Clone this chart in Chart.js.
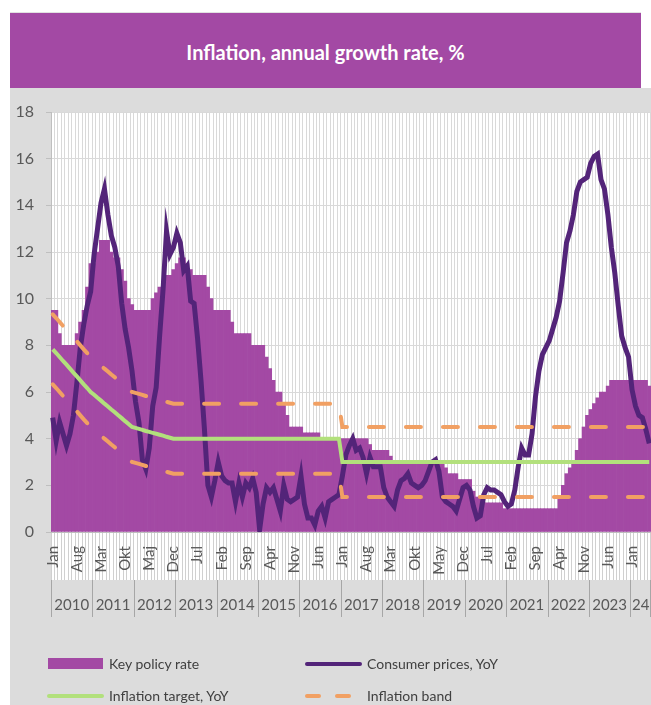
<!DOCTYPE html>
<html>
<head>
<meta charset="utf-8">
<title>Inflation, annual growth rate, %</title>
<script src="https://cdn.jsdelivr.net/npm/chart.js@4/dist/chart.umd.min.js"></script>
<style>
  body { margin: 0; width: 651px; height: 705px; position: relative; overflow: hidden; background: #fff; font-family: Lato, sans-serif; }
  #band { position: absolute; left: 10px; top: 13px; width: 631px; height: 75px; background: #A349A4; color: #fff;
          border-top: 1px solid #e2e2e2; margin-top: -1px;
          font-weight: bold; font-size: 20px; text-align: center; line-height: 78px; }
  #bg { position: absolute; left: 10px; top: 88px; right: 0; bottom: 0; background: #dcdcdc; }
  #chart { position: absolute; left: 0; top: 0; }
  .sw { position: absolute; }
  .txt { position: absolute; font-size: 14px; color: #404040; line-height: 20px; white-space: nowrap; }
</style>
</head>
<body>
<div id="band">Inflation, annual growth rate, %</div>
<div id="bg"></div>
<canvas id="chart" width="651" height="705"></canvas>
<div id="legend"></div>
<script>
// monthly, Jan 2010 - Jun 2024
var years = ['2010', '2011', '2012', '2013', '2014', '2015', '2016', '2017', '2018', '2019', '2020', '2021', '2022', '2023', '24'];
var months = ['Jan', 'Feb', 'Mar', 'Apr', 'May', 'Jun', 'Jul', 'Aug', 'Sep', 'Okt', 'Nov', 'Dec'];
// labels shown on the axis, one every 7 months
var tickLabels = ['Jan', 'Aug', 'Mar', 'Okt', 'Maj', 'Dec', 'Jul', 'Feb', 'Sep', 'Apr', 'Nov', 'Jun', 'Jan',
                  'Aug', 'Mar', 'Okt', 'May', 'Dec', 'Jul', 'Feb', 'Sep', 'Apr', 'Nov', 'Jun', 'Jan'];

var keyRate = [
  9.5, 9.5, 8.5, 8.0, 8.0, 8.0, 8.0, 8.5, 9.0, 9.5, 10.5, 11.5,
  11.5, 12.0, 12.5, 12.5, 12.5, 12.0, 11.75, 11.75, 11.25, 10.75, 10.0, 9.75,
  9.5, 9.5, 9.5, 9.5, 9.5, 10.0, 10.25, 10.5, 10.75, 11.0, 11.0, 11.25,
  11.5, 11.75, 11.75, 11.5, 11.25, 11.0, 11.0, 11.0, 11.0, 10.5, 10.0, 9.5,
  9.5, 9.5, 9.5, 9.5, 9.0, 8.5, 8.5, 8.5, 8.5, 8.5, 8.0, 8.0,
  8.0, 8.0, 7.5, 7.0, 6.5, 6.0, 6.0, 5.5, 5.0, 4.5, 4.5, 4.5,
  4.5, 4.25, 4.25, 4.25, 4.25, 4.25, 4.0, 4.0, 4.0, 4.0, 4.0, 4.0,
  4.0, 4.0, 4.0, 4.0, 4.0, 4.0, 4.0, 4.0, 3.75, 3.5, 3.5, 3.5,
  3.5, 3.5, 3.25, 3.0, 3.0, 3.0, 3.0, 3.0, 3.0, 3.0, 3.0, 3.0,
  3.0, 3.0, 3.0, 3.0, 3.0, 3.0, 2.75, 2.5, 2.5, 2.5, 2.25, 2.25,
  2.25, 2.25, 1.75, 1.5, 1.5, 1.25, 1.25, 1.25, 1.25, 1.25, 1.25, 1.0,
  1.0, 1.0, 1.0, 1.0, 1.0, 1.0, 1.0, 1.0, 1.0, 1.0, 1.0, 1.0,
  1.0, 1.0, 1.0, 1.5, 2.0, 2.5, 2.75, 3.0, 3.5, 4.0, 4.5, 5.0,
  5.25, 5.5, 5.75, 6.0, 6.0, 6.25, 6.5, 6.5, 6.5, 6.5, 6.5, 6.5,
  6.5, 6.5, 6.5, 6.5, 6.5, 6.25
];

var cpi = [
  4.9, 3.9, 4.7, 4.2, 3.7, 4.2, 5.0, 6.4, 7.9, 8.9, 9.7, 10.3,
  11.9, 13.0, 14.1, 14.7, 13.6, 12.7, 12.2, 11.4, 9.8, 8.7, 7.9, 6.9,
  5.6, 4.7, 3.1, 2.7, 3.6, 5.4, 6.2, 8.4, 10.4, 12.9, 11.9, 12.2,
  12.8, 12.4, 11.2, 11.4, 9.9, 9.8, 8.3, 6.5, 4.4, 2.0, 1.5, 2.2,
  3.0, 2.4, 2.2, 2.1, 2.1, 1.3, 2.1, 1.5, 2.1, 1.9, 2.3, 1.7,
  0.1, 1.2, 1.9, 1.7, 1.9, 1.4, 0.9, 2.0, 1.4, 1.3, 1.4, 1.5,
  2.4, 1.2, 0.6, 0.6, 0.3, 0.9, 1.1, 0.6, 1.3, 1.4, 1.5, 1.6,
  2.4, 3.3, 3.7, 4.0, 3.5, 3.6, 3.2, 2.5, 3.2, 2.8, 2.8, 2.8,
  1.9, 1.5, 1.3, 1.1, 1.8, 2.2, 2.3, 2.5, 2.1, 2.0, 1.9, 2.0,
  2.2, 2.6, 3.0, 3.1, 2.6, 1.5, 1.3, 1.2, 1.1, 0.9, 1.4, 1.9,
  2.0, 1.8, 1.1, 0.6, 0.7, 1.6, 1.9, 1.8, 1.8, 1.7, 1.6, 1.3,
  1.1, 1.2, 1.8, 2.8, 3.6, 3.3, 3.3, 4.2, 5.8, 6.9, 7.6, 7.9,
  8.2, 8.7, 9.2, 9.9, 11.1, 12.4, 12.9, 13.6, 14.6, 15.0, 15.1, 15.2,
  15.8, 16.1, 16.2, 15.1, 14.7, 13.6, 12.2, 11.1, 9.7, 8.4, 7.9, 7.5,
  6.1, 5.4, 5.0, 4.9, 4.4, 3.8
];

var target = [
  7.83, 7.67, 7.50, 7.33, 7.17, 7.00, 6.83, 6.67, 6.50, 6.33, 6.17, 6.00,
  5.88, 5.75, 5.63, 5.50, 5.38, 5.25, 5.13, 5.00, 4.88, 4.75, 4.63, 4.50,
  4.46, 4.42, 4.38, 4.33, 4.29, 4.25, 4.21, 4.17, 4.13, 4.08, 4.04, 4.00,
  4, 4, 4, 4, 4, 4, 4, 4, 4, 4, 4, 4,
  4, 4, 4, 4, 4, 4, 4, 4, 4, 4, 4, 4,
  4, 4, 4, 4, 4, 4, 4, 4, 4, 4, 4, 4,
  4, 4, 4, 4, 4, 4, 4, 4, 4, 4, 4, 4,
  3, 3, 3, 3, 3, 3, 3, 3, 3, 3, 3, 3,
  3, 3, 3, 3, 3, 3, 3, 3, 3, 3, 3, 3,
  3, 3, 3, 3, 3, 3, 3, 3, 3, 3, 3, 3,
  3, 3, 3, 3, 3, 3, 3, 3, 3, 3, 3, 3,
  3, 3, 3, 3, 3, 3, 3, 3, 3, 3, 3, 3,
  3, 3, 3, 3, 3, 3, 3, 3, 3, 3, 3, 3,
  3, 3, 3, 3, 3, 3, 3, 3, 3, 3, 3, 3,
  3, 3, 3, 3, 3, 3
];

var bandHigh = [
  9.33, 9.17, 9.00, 8.83, 8.67, 8.50, 8.33, 8.17, 8.00, 7.83, 7.67, 7.50,
  7.38, 7.25, 7.13, 7.00, 6.88, 6.75, 6.63, 6.50, 6.38, 6.25, 6.13, 6.00,
  5.96, 5.92, 5.88, 5.83, 5.79, 5.75, 5.71, 5.67, 5.63, 5.58, 5.54, 5.50,
  5.5, 5.5, 5.5, 5.5, 5.5, 5.5, 5.5, 5.5, 5.5, 5.5, 5.5, 5.5,
  5.5, 5.5, 5.5, 5.5, 5.5, 5.5, 5.5, 5.5, 5.5, 5.5, 5.5, 5.5,
  5.5, 5.5, 5.5, 5.5, 5.5, 5.5, 5.5, 5.5, 5.5, 5.5, 5.5, 5.5,
  5.5, 5.5, 5.5, 5.5, 5.5, 5.5, 5.5, 5.5, 5.5, 5.5, 5.5, 5.5,
  4.5, 4.5, 4.5, 4.5, 4.5, 4.5, 4.5, 4.5, 4.5, 4.5, 4.5, 4.5,
  4.5, 4.5, 4.5, 4.5, 4.5, 4.5, 4.5, 4.5, 4.5, 4.5, 4.5, 4.5,
  4.5, 4.5, 4.5, 4.5, 4.5, 4.5, 4.5, 4.5, 4.5, 4.5, 4.5, 4.5,
  4.5, 4.5, 4.5, 4.5, 4.5, 4.5, 4.5, 4.5, 4.5, 4.5, 4.5, 4.5,
  4.5, 4.5, 4.5, 4.5, 4.5, 4.5, 4.5, 4.5, 4.5, 4.5, 4.5, 4.5,
  4.5, 4.5, 4.5, 4.5, 4.5, 4.5, 4.5, 4.5, 4.5, 4.5, 4.5, 4.5,
  4.5, 4.5, 4.5, 4.5, 4.5, 4.5, 4.5, 4.5, 4.5, 4.5, 4.5, 4.5,
  4.5, 4.5, 4.5, 4.5, 4.5, 4.5
];

var bandLow = [
  6.33, 6.17, 6.00, 5.83, 5.67, 5.50, 5.33, 5.17, 5.00, 4.83, 4.67, 4.50,
  4.38, 4.25, 4.13, 4.00, 3.88, 3.75, 3.63, 3.50, 3.38, 3.25, 3.13, 3.00,
  2.96, 2.92, 2.88, 2.83, 2.79, 2.75, 2.71, 2.67, 2.63, 2.58, 2.54, 2.50,
  2.5, 2.5, 2.5, 2.5, 2.5, 2.5, 2.5, 2.5, 2.5, 2.5, 2.5, 2.5,
  2.5, 2.5, 2.5, 2.5, 2.5, 2.5, 2.5, 2.5, 2.5, 2.5, 2.5, 2.5,
  2.5, 2.5, 2.5, 2.5, 2.5, 2.5, 2.5, 2.5, 2.5, 2.5, 2.5, 2.5,
  2.5, 2.5, 2.5, 2.5, 2.5, 2.5, 2.5, 2.5, 2.5, 2.5, 2.5, 2.5,
  1.5, 1.5, 1.5, 1.5, 1.5, 1.5, 1.5, 1.5, 1.5, 1.5, 1.5, 1.5,
  1.5, 1.5, 1.5, 1.5, 1.5, 1.5, 1.5, 1.5, 1.5, 1.5, 1.5, 1.5,
  1.5, 1.5, 1.5, 1.5, 1.5, 1.5, 1.5, 1.5, 1.5, 1.5, 1.5, 1.5,
  1.5, 1.5, 1.5, 1.5, 1.5, 1.5, 1.5, 1.5, 1.5, 1.5, 1.5, 1.5,
  1.5, 1.5, 1.5, 1.5, 1.5, 1.5, 1.5, 1.5, 1.5, 1.5, 1.5, 1.5,
  1.5, 1.5, 1.5, 1.5, 1.5, 1.5, 1.5, 1.5, 1.5, 1.5, 1.5, 1.5,
  1.5, 1.5, 1.5, 1.5, 1.5, 1.5, 1.5, 1.5, 1.5, 1.5, 1.5, 1.5,
  1.5, 1.5, 1.5, 1.5, 1.5, 1.5
];

var purple = '#A349A4';
var darkPurple = '#532479';
var green = '#B2E07C';
var orange = '#F1A063';
var textGrey = '#595959';

// one category per month
var categories = [];
years.forEach(function (y) {
  months.forEach(function (m) {
    if (categories.length < keyRate.length) categories.push(m + ' ' + y);
  });
});

// white plot + label area
var plotBg = {
  id: 'plotBg',
  beforeDraw: function (chart) {
    var a = chart.chartArea, x = chart.scales.x, ctx = chart.ctx;
    ctx.save();
    ctx.fillStyle = '#ffffff';
    ctx.fillRect(a.left, a.top, a.right - a.left, x.bottom - a.top);
    ctx.restore();
  }
};

// year row under the month labels
var yearRow = {
  id: 'yearRow',
  afterDraw: function (chart) {
    var x = chart.scales.x, ctx = chart.ctx;
    var step = x.width / categories.length;
    var top = x.bottom, bottom = top + 37;
    ctx.save();
    ctx.strokeStyle = '#a6a6a6';
    ctx.lineWidth = 1;
    ctx.fillStyle = textGrey;
    ctx.font = '15px Lato';
    ctx.textAlign = 'center';
    ctx.textBaseline = 'middle';
    var r = x.left;
    years.forEach(function (y, k) {
      var first = k * 12;
      var last = Math.min(first + 11, categories.length - 1);
      var l = x.getPixelForValue(first) - step / 2;
      r = x.getPixelForValue(last) + step / 2;
      ctx.beginPath();
      ctx.moveTo(Math.round(l) + 0.5, top);
      ctx.lineTo(Math.round(l) + 0.5, bottom);
      ctx.stroke();
      ctx.fillText(y, (l + r) / 2, top + 25);
    });
    ctx.beginPath();
    ctx.moveTo(Math.round(r) - 0.5, top);
    ctx.lineTo(Math.round(r) - 0.5, bottom);
    ctx.stroke();
    ctx.restore();
  }
};

var chart = new Chart(document.getElementById('chart'), {
  data: {
    labels: categories,
    datasets: [{
      type: 'bar',
      label: 'Key policy rate',
      data: keyRate,
      backgroundColor: purple,
      barPercentage: 1,
      categoryPercentage: 1,
      order: 4
    }, {
      type: 'line',
      label: 'Consumer prices, YoY',
      data: cpi,
      borderColor: darkPurple,
      borderWidth: 5,
      pointRadius: 0,
      tension: 0,
      order: 3
    }, {
      type: 'line',
      label: 'Inflation target, YoY',
      data: target,
      borderColor: green,
      borderWidth: 4,
      pointRadius: 0,
      tension: 0,
      order: 2
    }, {
      type: 'line',
      label: 'Inflation band',
      data: bandHigh,
      borderColor: orange,
      borderWidth: 4,
      borderDash: [15, 22],
      borderCapStyle: 'round',
      pointRadius: 0,
      tension: 0,
      order: 1
    }, {
      type: 'line',
      label: 'Inflation band (low)',
      data: bandLow,
      borderColor: orange,
      borderWidth: 4,
      borderDash: [15, 22],
      borderCapStyle: 'round',
      pointRadius: 0,
      tension: 0,
      order: 1
    }]
  },
  options: {
    responsive: false,
    animation: false,
    devicePixelRatio: 1,
    layout: { padding: { top: 112, right: 0, bottom: 125, left: 0 } },
    plugins: {
      legend: { display: false },
      title: { display: false },
      tooltip: { enabled: false }
    },
    scales: {
      x: {
        offset: true,
        afterFit: function (s) { s.height = 48; },
        grid: { color: '#d9d9d9', lineWidth: 1, offset: true, tickLength: 48, tickColor: '#d0d0d0' },
        border: { color: '#bfbfbf' },
        ticks: {
          autoSkip: false,
          maxRotation: 90,
          minRotation: 90,
          padding: -34,
          color: textGrey,
          font: { family: 'Lato', size: 15 },
          callback: function (v, i) { return i % 7 === 0 ? tickLabels[i / 7] : ''; }
        }
      },
      y: {
        min: 0,
        max: 18,
        afterFit: function (s) { s.width = 51; },
        grid: { color: '#d9d9d9', lineWidth: 1, tickLength: 5, tickColor: '#bfbfbf' },
        border: { color: '#bfbfbf' },
        ticks: {
          stepSize: 2,
          padding: 12,
          color: textGrey,
          font: { family: 'Lato', size: 16 }
        }
      }
    }
  },
  plugins: [plotBg, yearRow]
});

// legend laid out in two columns like the original
var legendItems = [
  { kind: 'box', color: purple, text: 'Key policy rate', left: 48, top: 664 },
  { kind: 'line', color: darkPurple, text: 'Consumer prices, YoY', left: 305, top: 664 },
  { kind: 'line', color: green, text: 'Inflation target, YoY', left: 47, top: 696 },
  { kind: 'dash', color: orange, text: 'Inflation band', left: 305, top: 696 }
];
var legend = document.getElementById('legend');
legendItems.forEach(function (it) {
  var html = '';
  if (it.kind === 'box') {
    html += '<div class="sw" style="left:' + it.left + 'px;top:' + (it.top - 6) + 'px;width:55px;height:11px;background:' + it.color + '"></div>';
  } else if (it.kind === 'line') {
    html += '<div class="sw" style="left:' + it.left + 'px;top:' + (it.top - 2) + 'px;width:57px;height:4px;border-radius:2px;background:' + it.color + '"></div>';
  } else {
    html += '<div class="sw" style="left:' + it.left + 'px;top:' + (it.top - 2) + 'px;width:16px;height:4px;border-radius:2px;background:' + it.color + '"></div>';
    html += '<div class="sw" style="left:' + (it.left + 30) + 'px;top:' + (it.top - 2) + 'px;width:16px;height:4px;border-radius:2px;background:' + it.color + '"></div>';
  }
  html += '<div class="txt" style="left:' + (it.left < 100 ? 109 : 367) + 'px;top:' + (it.top - 10) + 'px">' + it.text + '</div>';
  legend.insertAdjacentHTML('beforeend', html);
});
</script>
</body>
</html>
